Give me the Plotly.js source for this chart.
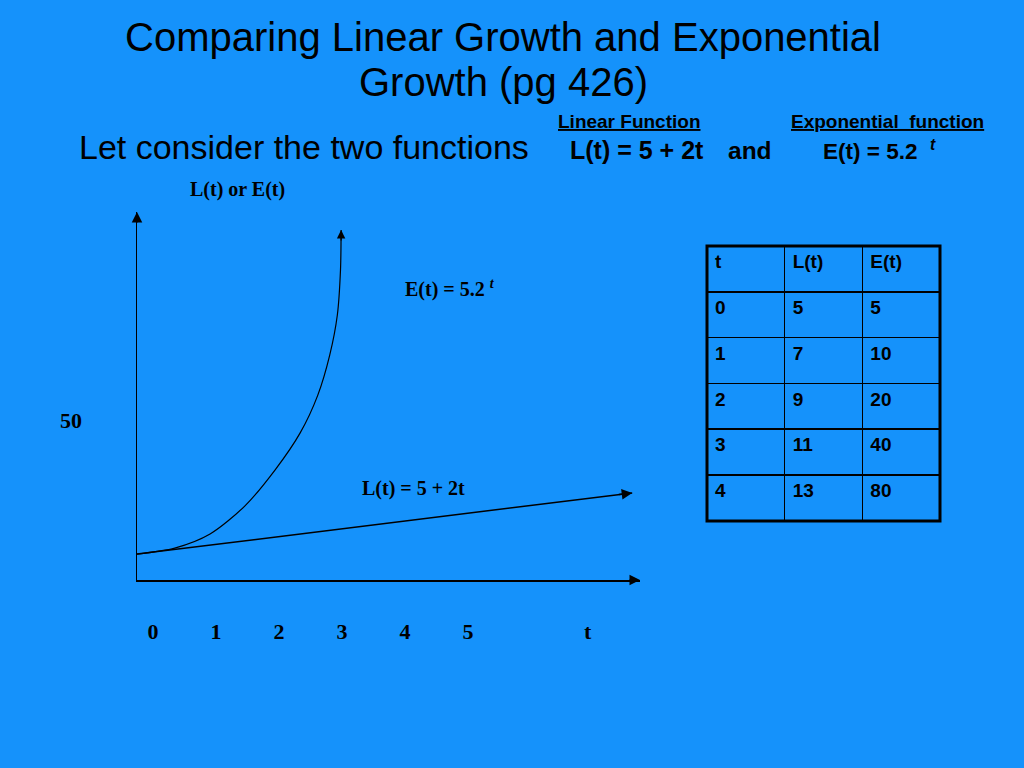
<!DOCTYPE html>
<html>
<head>
<meta charset="utf-8">
<script src="https://cdn.plot.ly/plotly-3.0.1.min.js"></script>
<style>html,body{margin:0;padding:0;background:#1592FB;}#chart{width:1024px;height:768px;}</style>
</head>
<body>
<div id="chart"></div>
<script>
// ---- data (schematic sketch units) ----
const tableT = ['0', '1', '2', '3', '4'];
const tableL = ['5', '7', '9', '11', '13'];
const tableE = ['5', '10', '20', '40', '80'];
const tableHeader = ['t', 'L(t)', 'E(t)'];

// sketched curves (t, value) as drawn on the slide
const linT = [0, 7.86];
const linV = [5.3, 25.7];
const expT = [0, 0.60, 1.16, 1.71, 2.19, 2.59, 2.87, 3.06, 3.18, 3.23, 3.24];
const expV = [5.3, 7.3, 12.0, 21.3, 33.3, 45.7, 58.3, 71.7, 85.0, 100.0, 113.3];

const xTickVals = [0, 1, 2, 3, 4, 5, 6.9];
const xTickText = ['0', '1', '2', '3', '4', '5', 't'];
const yTickVals = [50];
const yTickText = ['50'];

const titleLine1 = 'Comparing Linear Growth and Exponential';
const titleLine2 = 'Growth (pg 426)';

// ---- layout helpers ----
const BG = '#1592FB';
const W = 1024, H = 768;
const px = x => x / W;
const py = y => 1 - y / H;
const serif = {family: 'Liberation Serif, Times New Roman, serif', size: 20, color: '#000', weight: 'bold'};
const sans = {family: 'Liberation Sans, Arial, sans-serif', color: '#000'};

const xRange = [0, 7.984];
const yRange = [-3.333, 119.33];

const traces = [
  {x: linT, y: linV, type: 'scatter', mode: 'lines', line: {color: '#000', width: 1.5}, cliponaxis: false, hoverinfo: 'skip'},
  {x: expT, y: expV, type: 'scatter', mode: 'lines', line: {color: '#000', width: 1.2, shape: 'spline', smoothing: 0.8}, cliponaxis: false, hoverinfo: 'skip'},
  {
    type: 'table',
    domain: {x: [px(707), px(940)], y: [py(521), py(246)]},
    columnwidth: [1, 1, 1],
    header: {
      values: tableHeader, align: 'left', height: 45.8,
      fill: {color: BG}, line: {color: '#000', width: 1.5},
      font: {family: 'Liberation Sans, Arial, sans-serif', size: 19, color: '#000', weight: 'bold'}
    },
    cells: {
      values: [tableT, tableL, tableE], align: 'left', height: 45.8,
      fill: {color: BG}, line: {color: '#000', width: 1.5},
      font: {family: 'Liberation Sans, Arial, sans-serif', size: 19, color: '#000', weight: 'bold'}
    }
  }
];

const arrowBase = {showarrow: true, arrowhead: 2, arrowsize: 1.4, arrowwidth: 1.5, arrowcolor: '#000', text: ''};
const n = expT.length;
const label = (x, y, text, font, xanchor) => ({xref: 'paper', yref: 'paper', x: px(x), y: py(y), xanchor: xanchor || 'center', yanchor: 'middle', text: text, showarrow: false, font: font});

const annotations = [
  // axis arrowheads
  Object.assign({}, arrowBase, {xref: 'x', yref: 'y', x: 0, y: yRange[1], ax: 0, ay: 12}),
  Object.assign({}, arrowBase, {xref: 'x', yref: 'y', x: xRange[1], y: yRange[0], ax: -12, ay: 0}),
  // curve arrowheads
  Object.assign({}, arrowBase, {xref: 'x', yref: 'y', x: expT[n - 1], y: expV[n - 1], ax: 0, ay: 12, arrowwidth: 1.2}),
  Object.assign({}, arrowBase, {xref: 'x', yref: 'y', x: linT[1], y: linV[1], axref: 'x', ayref: 'y', ax: linT[0] + (linT[1] - linT[0]) * 0.97, ay: linV[0] + (linV[1] - linV[0]) * 0.97}),
  // chart labels
  label(237, 189, 'L(t) or E(t)', serif),
  label(403, 288, 'E(t) = 5.2 <sup><i>t</i></sup>', serif, 'left'),
  label(360, 488, 'L(t) = 5 + 2t', serif, 'left'),
  // slide texts
  label(503, 82, titleLine2, Object.assign({}, sans, {size: 40})),
  label(77, 147, 'Let consider the two functions', Object.assign({}, sans, {size: 34}), 'left'),
  label(629, 121, '<u>Linear Function</u>', Object.assign({}, sans, {size: 19, weight: 'bold'})),
  label(887, 121, '<u>Exponential  function</u>', Object.assign({}, sans, {size: 19, weight: 'bold'})),
  label(568, 150, 'L(t) = 5 + 2t', Object.assign({}, sans, {size: 25, weight: 'bold'}), 'left'),
  label(726, 150, 'and', Object.assign({}, sans, {size: 24.5, weight: 'bold'}), 'left'),
  label(821, 150, 'E(t) = 5.2\u00a0\u00a0<sup><i>t</i></sup>', Object.assign({}, sans, {size: 22.5, weight: 'bold'}), 'left')
];

const shapes = [
  {type: 'rect', xref: 'paper', yref: 'paper', x0: px(707), x1: px(940), y0: py(521), y1: py(246), line: {color: '#000', width: 3}}
];

const layout = {
  width: W, height: H,
  margin: {l: 0, r: 0, t: 0, b: 0},
  paper_bgcolor: BG, plot_bgcolor: BG,
  showlegend: false,
  title: {
    text: titleLine1,
    xref: 'paper', yref: 'paper',
    x: px(503), xanchor: 'center', y: py(37), yanchor: 'middle',
    font: Object.assign({}, sans, {size: 40})
  },
  xaxis: {
    domain: [px(137), px(640)], range: xRange,
    showline: true, linecolor: '#000', linewidth: 1.5,
    showgrid: false, zeroline: false, ticks: '',
    tickvals: xTickVals, ticktext: xTickText,
    tickfont: Object.assign({}, serif, {size: 22}),
    ticklabelstandoff: 31, ticklabelshift: 16, fixedrange: true
  },
  yaxis: {
    domain: [py(580), py(212)], range: yRange,
    showline: true, linecolor: '#000', linewidth: 1.5,
    showgrid: false, zeroline: false, ticks: '',
    tickvals: yTickVals, ticktext: yTickText,
    tickfont: Object.assign({}, serif, {size: 22}),
    ticklabelstandoff: 49, fixedrange: true
  },
  annotations: annotations,
  shapes: shapes
};

Plotly.newPlot('chart', traces, layout, {displayModeBar: false, staticPlot: true});
</script>
</body>
</html>
